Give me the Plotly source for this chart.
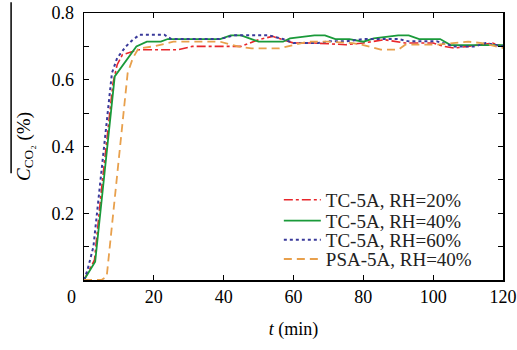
import plotly.graph_objects as go

# ---- data ----
t_rh20 = [0, 3, 5, 7.5, 8.3, 9.5, 11, 15.5, 27, 31, 45, 50, 54, 57, 60, 66, 75, 80, 86, 92, 100, 103, 106, 110, 114, 117, 120]
c_rh20 = [0, 0.06, 0.27, 0.52, 0.59, 0.645, 0.675, 0.69, 0.69, 0.70, 0.70, 0.72, 0.73, 0.72, 0.71, 0.71, 0.705, 0.71, 0.72, 0.71, 0.71, 0.70, 0.695, 0.70, 0.705, 0.71, 0.70]

t_rh40 = [0, 3.2, 8.8, 15, 18, 22, 24, 39, 42, 45, 50, 57, 59, 66, 69, 72, 76, 80, 83, 90, 93, 96, 102, 105, 120]
c_rh40 = [0, 0.055, 0.61, 0.70, 0.714, 0.714, 0.722, 0.722, 0.733, 0.733, 0.714, 0.714, 0.724, 0.733, 0.733, 0.722, 0.722, 0.714, 0.724, 0.733, 0.733, 0.722, 0.722, 0.704, 0.704]

t_rh60 = [0, 1, 2.7, 7, 8, 9.5, 12, 14, 16, 23, 25, 39, 43, 53, 57, 60, 67, 70, 75, 80, 83, 90, 93, 101, 106, 112, 115, 120]
c_rh60 = [0, 0.03, 0.10, 0.52, 0.62, 0.665, 0.70, 0.72, 0.735, 0.735, 0.722, 0.722, 0.733, 0.733, 0.722, 0.71, 0.71, 0.715, 0.715, 0.722, 0.722, 0.722, 0.715, 0.715, 0.70, 0.70, 0.71, 0.70]

t_psa = [0, 5, 6.5, 8.5, 10.5, 12.5, 14, 15.6, 20, 25.6, 39, 44, 48, 56, 60, 64, 70, 77, 80, 85, 90, 92, 101, 105, 110, 114, 120]
c_psa = [0, 0, 0.01, 0.22, 0.42, 0.62, 0.665, 0.694, 0.70, 0.714, 0.714, 0.70, 0.694, 0.694, 0.704, 0.714, 0.714, 0.71, 0.704, 0.69, 0.69, 0.705, 0.705, 0.71, 0.714, 0.71, 0.695]

series_names = ["TC-5A, RH=20%", "TC-5A, RH=40%", "TC-5A, RH=60%", "PSA-5A, RH=40%"]

x_ticks = [0, 20, 40, 60, 80, 100, 120]
x_ticklabels = ["", "20", "40", "60", "80", "100", "120"]
y_ticks = [0.1, 0.2, 0.3, 0.4, 0.5, 0.6, 0.7, 0.8]
y_ticklabels = ["", "0.2", "", "0.4", "", "0.6", "", "0.8"]

FONT = "Liberation Serif"

fig = go.Figure()
styles = [
    dict(color="#e8262b", dash="dashdot", width=1.6),
    dict(color="#1a9a3a", dash="solid", width=1.8),
    dict(color="#3a3a9a", dash="dot", width=2),
    dict(color="#e8a04c", dash="8px,5px", width=1.8),
]
legend_ids = ["legend", "legend2", "legend3", "legend4"]
for name, tx, cy, st, lg in zip(series_names, [t_rh20, t_rh40, t_rh60, t_psa],
                                [c_rh20, c_rh40, c_rh60, c_psa], styles, legend_ids):
    fig.add_trace(go.Scatter(x=tx, y=cy, mode="lines", name=name, line=st, legend=lg,
                             hoverinfo="skip"))

axis_common = dict(
    showgrid=False, zeroline=False, showline=True, linecolor="black", linewidth=1.5,
    mirror="allticks", ticks="inside", ticklen=5, tickcolor="black", tickwidth=1.2,
    tickfont=dict(family=FONT, size=18, color="black"), automargin=False,
)

legend_rows_y = [0.300, 0.222, 0.150, 0.078]
legend_style = dict(x=0.465, xanchor="left", yanchor="middle",
                    bgcolor="rgba(0,0,0,0)", borderwidth=0,
                    font=dict(family=FONT, size=19, color="#222"),
                    itemwidth=37)

fig.update_layout(
    width=517, height=350,
    margin=dict(l=84, r=14, t=13, b=70, autoexpand=False),
    paper_bgcolor="white", plot_bgcolor="white",
    font=dict(family=FONT, size=18, color="black"),
    showlegend=True,
    xaxis=dict(range=[0, 120], tickvals=x_ticks, ticktext=x_ticklabels,
               title=dict(text="<i>t</i> (min)", font=dict(family=FONT, size=18), standoff=16),
               **axis_common),
    yaxis=dict(range=[0, 0.8], tickvals=y_ticks, ticktext=y_ticklabels,
               ticklabelstandoff=5,
               title=dict(text="<i>C</i><sub>CO₂</sub> (%)", font=dict(family=FONT, size=19), standoff=16),
               **axis_common),
)
for lg, yy in zip(legend_ids, legend_rows_y):
    fig.update_layout({lg: dict(y=yy, **legend_style)})

# origin label "0" shared at bottom-left
fig.add_annotation(text="0", x=-0.029, y=-0.065, xref="paper", yref="paper",
                   showarrow=False, xanchor="center", yanchor="middle",
                   font=dict(family=FONT, size=18, color="black"))

# vertical bar at the far left of the reference (overline of the axis title)
fig.add_shape(type="line", xref="paper", yref="paper",
              x0=-0.174, x1=-0.174, y0=1.04, y1=0.40,
              line=dict(color="black", width=1.5))

fig.write_html(
    "out.html",
    config={"displayModeBar": False, "staticPlot": True},
    post_script="document.body.style.margin='0';document.body.style.overflow='hidden';",
)
